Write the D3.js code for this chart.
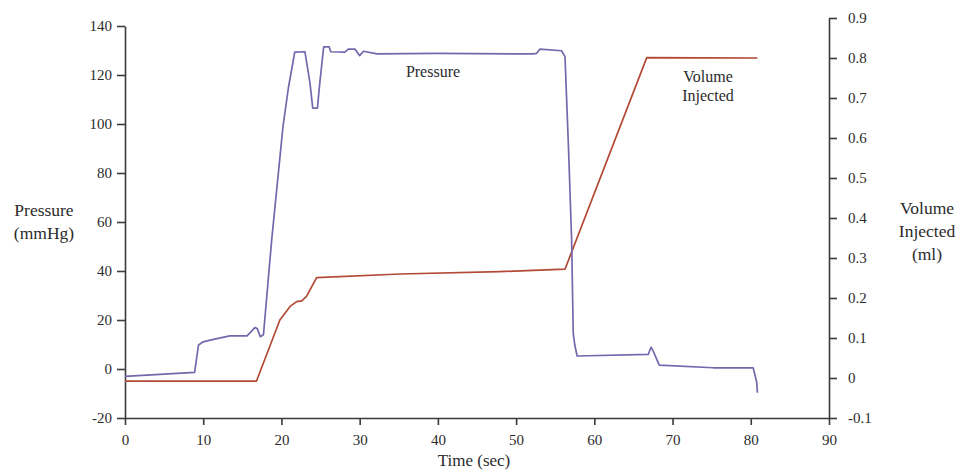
<!DOCTYPE html>
<html>
<head>
<meta charset="utf-8">
<script src="https://cdn.jsdelivr.net/npm/d3@7"></script>
<style>
  body { margin: 0; background: #fff; }
  svg text { font-family: "Liberation Serif", "Times New Roman", Times, "DejaVu Serif", serif; fill: #2b2b2b; }
</style>
</head>
<body>
<svg id="chart" width="960" height="475"></svg>
<script>
// pressure trace (sec, mmHg)
const pressureTime = [0, 8.9, 9.4, 10, 11.3, 13.4, 15.6, 16.6, 16.9, 17.3, 17.7, 18.75, 20.2, 20.9, 21.7, 23.0, 23.65, 24.0, 24.6, 24.9, 25.4, 26.1, 26.3, 28.1, 28.55, 29.4, 30.0, 30.5, 32.2, 40, 52.2, 52.6, 53.05, 55.8, 56.25, 56.7, 57.1, 57.3, 57.5, 57.8, 66.9, 67.25, 67.5, 68.3, 75.2, 80.3, 80.75, 80.85];
const pressureValues = [-3, -1.4, 9.8, 11.1, 12.1, 13.5, 13.5, 16.9, 16.5, 13.2, 14, 52.6, 99, 115, 129.3, 129.5, 116.7, 106.5, 106.5, 116.7, 131.5, 131.5, 129.5, 129.3, 130.6, 130.6, 127.9, 129.7, 128.6, 128.8, 128.6, 128.8, 130.6, 129.9, 127.5, 90, 52.6, 14.6, 9.8, 5.3, 6.0, 8.9, 7.5, 1.6, 0.5, 0.5, -5.2, -9.7];

// injected volume trace (sec, ml)
const volumeTime = [0, 16.8, 19.8, 21.1, 21.95, 22.6, 23.2, 24.5, 35.2, 47.9, 56.25, 66.7, 80.85];
const volumeValues = [-0.008, -0.008, 0.145, 0.179, 0.191, 0.193, 0.204, 0.251, 0.26, 0.266, 0.272, 0.801, 0.80];

const xTicks = [0, 10, 20, 30, 40, 50, 60, 70, 80, 90];
const pTicks = [-20, 0, 20, 40, 60, 80, 100, 120, 140];
const vTicks = [-0.1, 0, 0.1, 0.2, 0.3, 0.4, 0.5, 0.6, 0.7, 0.8, 0.9];

const svg = d3.select("#chart");

const x = d3.scaleLinear().domain([0, 90]).range([125, 829]);
const yP = d3.scaleLinear().domain([-20, 140]).range([418, 26]);
const yV = d3.scaleLinear().domain([-0.1, 0.9]).range([418, 18]);

const axisColor = "#3a3a3a";

function styleAxis(g) {
  g.selectAll("path").attr("stroke", axisColor).attr("stroke-width", 1.6);
  g.selectAll("line").attr("stroke", axisColor).attr("stroke-width", 1.6);
  g.selectAll("text")
    .attr("font-size", "15px")
    .attr("fill", "#2b2b2b");
}

// bottom axis
svg.append("g")
  .attr("transform", "translate(0,418)")
  .call(d3.axisBottom(x).tickValues(xTicks).tickSize(7).tickSizeOuter(0).tickPadding(9).tickFormat(d => String(d)))
  .call(styleAxis);

// left axis
svg.append("g")
  .attr("transform", "translate(125,0)")
  .call(d3.axisLeft(yP).tickValues(pTicks).tickSize(8).tickSizeOuter(0).tickPadding(5).tickFormat(d => String(d)))
  .call(styleAxis);

// right axis
svg.append("g")
  .attr("transform", "translate(829,0)")
  .call(d3.axisRight(yV).tickValues(vTicks).tickSize(8).tickSizeOuter(0).tickPadding(11).tickFormat(d => d === 0 ? "0" : d.toFixed(1)))
  .call(styleAxis);

// d3 axes set font-family on the group, reset it so the css serif applies
svg.selectAll("g").attr("font-family", null);

// lines
const pLine = d3.line()
  .x((d, i) => x(pressureTime[i]))
  .y(d => yP(d));

const vLine = d3.line()
  .x((d, i) => x(volumeTime[i]))
  .y(d => yV(d));

svg.append("path")
  .datum(volumeValues)
  .attr("fill", "none")
  .attr("stroke", "#b24a35")
  .attr("stroke-width", 1.7)
  .attr("stroke-linejoin", "round")
  .attr("d", vLine);

svg.append("path")
  .datum(pressureValues)
  .attr("fill", "none")
  .attr("stroke", "#7667ad")
  .attr("stroke-width", 1.7)
  .attr("stroke-linejoin", "round")
  .attr("d", pLine);

// in-plot labels
svg.append("text")
  .attr("x", 433).attr("y", 77)
  .attr("text-anchor", "middle")
  .attr("font-size", "16px")
  .text("Pressure");

const volLabel = svg.append("text")
  .attr("text-anchor", "middle")
  .attr("font-size", "16px");
volLabel.append("tspan").attr("x", 708).attr("y", 82).text("Volume");
volLabel.append("tspan").attr("x", 708).attr("y", 101).text("Injected");

// axis titles
svg.append("text")
  .attr("x", 474).attr("y", 466)
  .attr("text-anchor", "middle")
  .attr("font-size", "17px")
  .text("Time (sec)");

const leftTitle = svg.append("text")
  .attr("text-anchor", "middle")
  .attr("font-size", "17.5px");
leftTitle.append("tspan").attr("x", 44).attr("y", 216).text("Pressure");
leftTitle.append("tspan").attr("x", 44).attr("y", 239).text("(mmHg)");

const rightTitle = svg.append("text")
  .attr("text-anchor", "middle")
  .attr("font-size", "17.5px");
rightTitle.append("tspan").attr("x", 927).attr("y", 214).text("Volume");
rightTitle.append("tspan").attr("x", 927).attr("y", 237).text("Injected");
rightTitle.append("tspan").attr("x", 927).attr("y", 260).text("(ml)");
</script>
</body>
</html>
